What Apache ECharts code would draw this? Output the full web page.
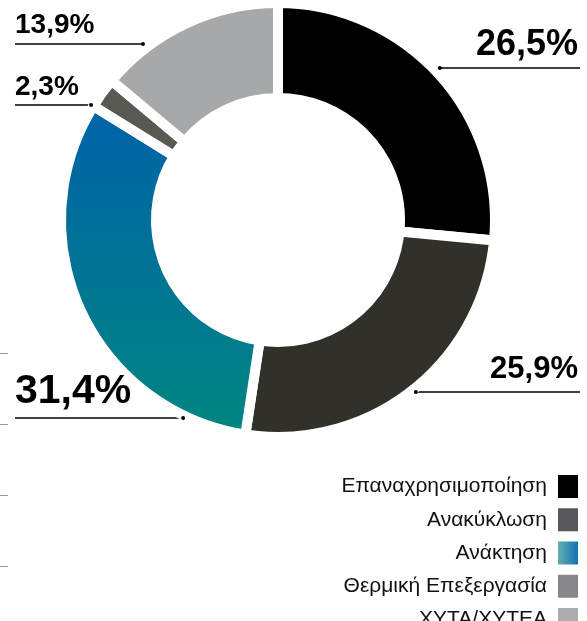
<!DOCTYPE html>
<html>
<head>
<meta charset="utf-8">
<script src="https://cdn.jsdelivr.net/npm/echarts@6/dist/echarts.min.js"></script>
<style>
  html, body { margin: 0; padding: 0; background: #fff; }
  #chart { width: 587px; height: 621px; }
</style>
</head>
<body>
<div id="chart"></div>
<script>
// δεδομένα
const categories = ["Επαναχρησιμοποίηση", "Ανακύκλωση", "Ανάκτηση", "Θερμική Επεξεργασία", "ΧΥΤΑ/ΧΥΤΕΑ"];
const shares = [26.5, 25.9, 31.4, 2.3, 13.9];

// χρώματα τομέων και υπομνήματος
const blueTeal = new echarts.graphic.LinearGradient(0, 0, 0, 1, [
  { offset: 0, color: "#0062a9" },
  { offset: 1, color: "#008680" }
]);
const tealBlue = new echarts.graphic.LinearGradient(0, 0, 1, 0, [
  { offset: 0, color: "#6cb4b1" },
  { offset: 1, color: "#0a6db3" }
]);
const sliceColors = ["#000000", "#32302b", blueTeal, "#5a5853", "#a7a8aa"];
const legendColors = ["#000000", "#58585a", tealBlue, "#878789", "#adadaf"];

// θέση ετικετών: γωνία/ακτίνα της τελείας, πλευρά, μέγεθος γραμματοσειράς
const CX = 278, CY = 220;
const anchors = [
  { deg: 46.8, r: 222, side: "right", size: 36, lift: 23 },
  { deg: 141.3, r: 220.5, side: "right", size: 31, lift: 23 },
  { deg: 205.6, r: 219.6, side: "left", size: 41, lift: 26 },
  { deg: 301.6, r: 219.5, side: "left", size: 28, lift: 18 },
  { deg: 322.5, r: 221.8, side: "left", size: 28, lift: 19 }
];

function polarPx(r, deg) {
  const a = (deg * Math.PI) / 180;
  return [CX + r * Math.sin(a), CY - r * Math.cos(a)];
}

const chart = echarts.init(document.getElementById("chart"), null, { renderer: "canvas" });

const option = {
  animation: false,
  backgroundColor: "#fff",
  legend: {
    orient: "vertical",
    right: 7,
    top: 473,
    height: 200,
    padding: 0,
    align: "right",
    icon: "rect",
    itemWidth: 22,
    itemHeight: 25,
    itemGap: 6.25,
    selectedMode: false,
    textStyle: {
      fontFamily: "Liberation Sans, Arial, sans-serif",
      fontSize: 21,
      color: "#111",
      padding: [0, 5, 0, 0]
    },
    data: categories.map((n, i) => ({ name: n, itemStyle: { color: legendColors[i] } }))
  },
  // μικρές γραμμές στο αριστερό άκρο
  grid: { left: 0, top: 353, height: 213, width: 10 },
  xAxis: { type: "value", show: false },
  yAxis: {
    type: "value",
    min: 0,
    max: 3,
    interval: 1,
    axisLine: { show: false },
    axisLabel: { show: false },
    splitLine: { show: false },
    axisTick: { show: true, inside: true, length: 8, lineStyle: { color: "#9a9a9a", width: 1 } }
  },
  polar: { center: [CX, CY], radius: 212 },
  angleAxis: { type: "value", min: 0, max: 360, startAngle: 90, clockwise: true, show: false },
  radiusAxis: { type: "value", min: 0, max: 212, show: false },
  series: [
    {
      type: "pie",
      center: [CX, CY],
      radius: [122, 217],
      startAngle: 90,
      clockwise: true,
      avoidLabelOverlap: false,
      silent: true,
      z: 1,
      itemStyle: { borderColor: "#fff", borderWidth: 10 },
      label: {
        show: true,
        formatter: (p) => p.value.toFixed(1).replace(".", ",") + "%",
        fontFamily: "Liberation Sans, Arial, sans-serif",
        fontWeight: "bold",
        color: "#000"
      },
      labelLine: { show: true, lineStyle: { color: "#000", width: 1.5 } },
      labelLayout: function (params) {
        const a = anchors[params.dataIndex];
        const [dx, dy] = polarPx(a.r, a.deg);
        const ex = a.side === "right" ? 580 : 15;
        return {
          x: a.side === "right" ? 578 : 15,
          y: dy - a.lift,
          align: a.side,
          verticalAlign: "middle",
          fontSize: a.size,
          labelLinePoints: [[dx, dy], [dx, dy], [ex, dy]]
        };
      },
      data: categories.map((n, i) => ({
        name: n,
        value: shares[i],
        itemStyle: { color: sliceColors[i] }
      }))
    },
    {
      // τελείες στην άκρη των γραμμών
      type: "scatter",
      coordinateSystem: "polar",
      polarIndex: 0,
      clip: false,
      symbol: "circle",
      symbolSize: 4,
      silent: true,
      z: 10,
      itemStyle: { color: "#000", opacity: 1 },
      data: anchors.map((a) => [a.r, a.deg])
    }
  ]
};

chart.setOption(option);
</script>
</body>
</html>
